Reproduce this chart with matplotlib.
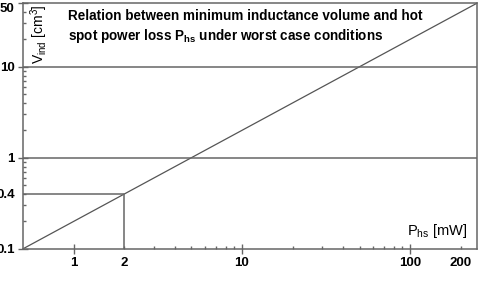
import matplotlib
matplotlib.use('Agg')
import matplotlib.pyplot as plt
from matplotlib.ticker import FixedLocator, FuncFormatter, LogLocator

plt.rcParams['font.family'] = ['Liberation Sans', 'DejaVu Sans']

# data: V_ind = 0.2 * P_hs (log-log straight line)
p_hs = [0.5, 250]
v_ind = [0.1, 50]
ref_levels = [1, 10]          # horizontal reference lines
mark_p, mark_v = 2, 0.4       # marked operating point
x_major = [1, 10, 100]
x_minor = [2, 3, 4, 5, 6, 7, 8, 9, 20, 30, 40, 50, 60, 70, 80, 90, 200]
x_labeled_minor = [2, 200]
y_major = [0.1, 1, 10, 50]
y_labeled_minor = [0.4]

line_col = '#555555'
axis_col = '#666666'

fig = plt.figure(figsize=(4.8, 2.84), dpi=100)
ax = fig.add_axes([0.048, 0.124, 0.946, 0.865])
ax.set_xscale('log')
ax.set_yscale('log')
ax.set_xlim(0.5, 250)
ax.set_ylim(0.1, 50)

ax.plot(p_hs, v_ind, color=line_col, lw=0.9)
for lv in ref_levels:
    ax.axhline(lv, color=axis_col, lw=1.1)
ax.plot([p_hs[0], mark_p, mark_p], [mark_v, mark_v, v_ind[0]], color=axis_col, lw=1.1)

for s in ax.spines.values():
    s.set_color(axis_col)
    s.set_linewidth(1.1)

fmt = lambda keep: FuncFormatter(lambda v, p: f'{v:g}' if any(abs(v - k) / k < 1e-6 for k in keep) else '')

ax.xaxis.set_major_locator(FixedLocator(x_major))
ax.xaxis.set_major_formatter(fmt(x_major))
ax.xaxis.set_minor_locator(FixedLocator(x_minor))
ax.xaxis.set_minor_formatter(fmt(x_labeled_minor))

ax.yaxis.set_major_locator(FixedLocator(y_major))
ax.yaxis.set_major_formatter(fmt(y_major))
ax.yaxis.set_minor_locator(LogLocator(base=10, subs=range(2, 10)))
ax.yaxis.set_minor_formatter(fmt(y_labeled_minor))

# lengths and pads are in points (1 pt = 1.39 px at 100 dpi)
ax.tick_params(which='major', direction='inout', length=7.5, width=1, color=axis_col,
               labelsize=9.5)
ax.tick_params(which='minor', direction='in', length=2.2, width=1, color=axis_col,
               labelsize=9.5)
ax.tick_params(axis='x', which='major', pad=2)
ax.tick_params(axis='x', which='minor', pad=5.8)
ax.tick_params(axis='y', which='major', pad=2.2)
ax.tick_params(axis='y', which='minor', pad=5.8)
for lab in ax.get_xticklabels(which='both') + ax.get_yticklabels(which='both'):
    lab.set_fontweight('bold')
for lab in ax.get_yticklabels():
    if lab.get_text() == '50':
        lab.set_va('top')

ax.text(0.098, 0.975, 'Relation between minimum inductance volume and hot\n'
        r'spot power loss P$_\mathregular{hs}$ under worst case conditions',
        transform=ax.transAxes, fontsize=9.75, fontweight='bold', va='top', ha='left',
        linespacing=1.3)
ax.text(0.012, 0.995, r'V$_\mathregular{ind}$ [cm$^\mathregular{3}$]', transform=ax.transAxes,
        rotation=90, fontsize=10, va='top', ha='left')
ax.text(0.978, 0.035, r'P$_\mathregular{hs}$ [mW]', transform=ax.transAxes,
        fontsize=10.5, va='bottom', ha='right')

fig.savefig('out.png', dpi=100)
